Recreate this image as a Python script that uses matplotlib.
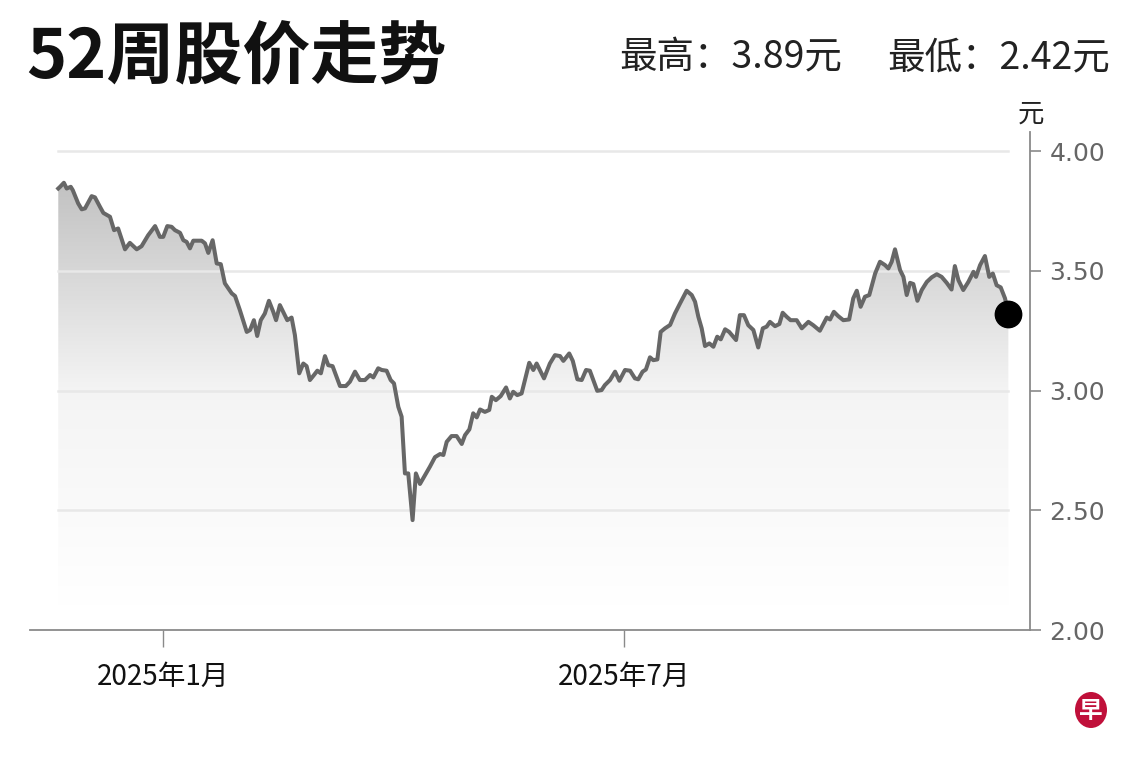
import numpy as np
import pandas as pd
import matplotlib
matplotlib.use('Agg')
import matplotlib.pyplot as plt
import matplotlib.dates as mdates
from matplotlib.colors import LinearSegmentedColormap
from matplotlib.patches import Ellipse

plt.rcParams['font.family'] = ['Noto Sans CJK SC', 'DejaVu Sans']

# 数据：距 2025-01-01 的天数与收盘价（元）
day_offsets = [
    -41.1, -40.4, -38.9, -37.8, -36.2, -35.4, -33.3, -31.9, -30.6, -28.0,
    -26.7, -24.7, -23.4, -20.8, -19.2, -17.6, -14.9, -13.0, -10.3, -8.4,
    -5.8, -3.1, -1.2, 0.1, 1.7, 3.4, 4.7, 6.7, 8.0, 9.3,
    10.6, 11.9, 15.2, 16.5, 17.8, 19.5, 21.1, 22.7, 24.3, 27.0,
    28.3, 30.2, 32.9, 34.2, 35.7, 37.0, 38.4, 40.0, 41.6, 43.3,
    44.4, 45.9, 47.5, 48.8, 50.5, 51.8, 53.5, 55.1, 56.4, 57.7,
    59.3, 60.6, 62.0, 63.6, 64.9, 66.6, 69.5, 71.8, 73.4, 75.4,
    77.3, 79.3, 81.3, 82.6, 84.5, 85.9, 87.8, 89.4, 90.7, 92.4,
    93.7, 95.0, 96.3, 98.0, 99.3, 100.9, 102.9, 104.8, 106.8, 108.8,
    110.1, 111.4, 113.3, 115.3, 117.3, 118.6, 120.3, 121.8, 123.2, 124.5,
    126.4, 128.1, 129.1, 130.7, 132.6, 134.7, 136.2, 137.5, 139.1, 140.8,
    143.8, 145.4, 146.7, 149.6, 151.9, 153.9, 155.9, 157.2, 159.5, 160.9,
    162.7, 164.4, 166.1, 167.6, 170.5, 172.2, 173.5, 175.5, 177.5, 179.2,
    181.4, 183.4, 185.3, 186.6, 188.3, 189.6, 191.2, 192.5, 194.1, 195.4,
    197.1, 199.1, 201.0, 203.0, 205.6, 207.6, 208.9, 210.2, 211.5, 212.8,
    214.5, 216.1, 217.6, 219.0, 220.7, 222.3, 225.0, 226.5, 228.1, 229.8,
    231.8, 233.7, 235.5, 237.0, 238.3, 240.3, 242.0, 243.3, 244.9, 246.4,
    248.8, 250.8, 253.4, 255.3, 257.9, 260.6, 261.9, 263.4, 265.1, 267.1,
    269.4, 271.0, 272.4, 273.9, 275.6, 277.3, 279.6, 281.5, 283.5, 284.8,
    286.1, 287.4, 289.4, 290.7, 292.0, 293.3, 294.6, 296.2, 297.9, 299.9,
    301.8, 303.8, 305.7, 307.7, 309.6, 310.9, 312.3, 314.2, 316.2, 318.2,
    319.2, 320.8, 322.7, 324.4, 325.8, 327.3, 328.9, 330.6, 331.9,
]
prices = [
    3.844, 3.851, 3.868, 3.844, 3.851, 3.837, 3.782, 3.757, 3.761, 3.812,
    3.807, 3.767, 3.742, 3.726, 3.670, 3.677, 3.590, 3.617, 3.590, 3.603,
    3.649, 3.687, 3.642, 3.642, 3.687, 3.684, 3.670, 3.659, 3.628, 3.621,
    3.594, 3.626, 3.626, 3.615, 3.575, 3.628, 3.531, 3.528, 3.448, 3.406,
    3.395, 3.336, 3.245, 3.253, 3.294, 3.228, 3.294, 3.322, 3.375, 3.329,
    3.294, 3.357, 3.322, 3.294, 3.305, 3.232, 3.072, 3.113, 3.102, 3.044,
    3.065, 3.083, 3.072, 3.144, 3.106, 3.102, 3.019, 3.019, 3.037, 3.079,
    3.044, 3.044, 3.065, 3.055, 3.093, 3.086, 3.083, 3.044, 3.030, 2.932,
    2.891, 2.654, 2.654, 2.459, 2.654, 2.610, 2.647, 2.682, 2.722, 2.735,
    2.731, 2.786, 2.810, 2.810, 2.777, 2.814, 2.838, 2.905, 2.888, 2.921,
    2.911, 2.919, 2.974, 2.960, 2.977, 3.013, 2.967, 2.995, 2.981, 2.988,
    3.116, 3.086, 3.113, 3.051, 3.113, 3.148, 3.144, 3.124, 3.155, 3.124,
    3.047, 3.044, 3.086, 3.083, 2.999, 3.002, 3.023, 3.044, 3.079, 3.041,
    3.086, 3.083, 3.051, 3.047, 3.079, 3.088, 3.139, 3.127, 3.130, 3.245,
    3.260, 3.274, 3.322, 3.364, 3.417, 3.399, 3.371, 3.308, 3.260, 3.186,
    3.197, 3.183, 3.225, 3.214, 3.256, 3.245, 3.211, 3.315, 3.315, 3.273,
    3.253, 3.180, 3.260, 3.267, 3.287, 3.269, 3.278, 3.325, 3.308, 3.294,
    3.294, 3.260, 3.287, 3.273, 3.250, 3.305, 3.297, 3.329, 3.311, 3.294,
    3.297, 3.385, 3.417, 3.350, 3.392, 3.399, 3.489, 3.538, 3.524, 3.510,
    3.538, 3.590, 3.503, 3.475, 3.399, 3.450, 3.445, 3.375, 3.420, 3.454,
    3.473, 3.486, 3.475, 3.450, 3.422, 3.520, 3.461, 3.420, 3.454, 3.496,
    3.475, 3.524, 3.562, 3.475, 3.489, 3.440, 3.431, 3.385, 3.320,
]
base_date = pd.Timestamp('2025-01-01')
dates = base_date + pd.to_timedelta(day_offsets, unit='D')

y_ticks = [2.00, 2.50, 3.00, 3.50, 4.00]
x_tick_dates = [pd.Timestamp('2025-01-01'), pd.Timestamp('2025-07-01')]
x_tick_labels = ['2025年1月', '2025年7月']

title = '52周股价走势'
high_text = '最高：3.89元'
low_text = '最低：2.42元'

# 画布
fig = plt.figure(figsize=(11.4, 7.6), dpi=100)
ax = fig.add_axes([30 / 1140, 130 / 760, 1000 / 1140, 498 / 760])

x = mdates.date2num(dates)
xmin = mdates.date2num(base_date - pd.Timedelta(days=52.2))
xmax = mdates.date2num(base_date + pd.Timedelta(days=340.4))
ymin, ymax = 2.0, 4.08

# 网格线（只画到数据范围）
for yv in y_ticks[1:]:
    ax.plot([x[0], x[-1]], [yv, yv], color='#e8e8e8', lw=1.8, zorder=2)

# 渐变填充
cmap = LinearSegmentedColormap.from_list('g', ['#ffffff', '#f4f4f4', '#c0c0c0'])
grad = np.linspace(0, 1, 256).reshape(-1, 1)
poly = ax.fill_between(x, prices, ymin, facecolor='none', edgecolor='none')
im = ax.imshow(grad, extent=[x[0], x[-1], 2.1, 3.9], origin='lower',
               aspect='auto', cmap=cmap, zorder=1)
im.set_clip_path(poly.get_paths()[0], transform=ax.transData)

ax.plot(x, prices, color='#676767', lw=2.9, zorder=3, solid_joinstyle='round')
ax.plot(x[-1], prices[-1], 'o', color='black', ms=19, zorder=4)

ax.set_xlim(xmin, xmax)
ax.set_ylim(ymin, ymax)

# 坐标轴
for s in ['top', 'left']:
    ax.spines[s].set_visible(False)
for s in ['right', 'bottom']:
    ax.spines[s].set_color('#8a8a8a')
    ax.spines[s].set_linewidth(1.3)

ax.yaxis.tick_right()
ax.set_yticks(y_ticks)
ax.set_yticklabels([f'{v:.2f}' for v in y_ticks], family='DejaVu Sans',
                   fontsize=18, color='#666666')
ax.tick_params(axis='y', length=8, width=1.2, color='#8a8a8a', pad=6)

ax.set_xticks(mdates.date2num(x_tick_dates))
ax.set_xticklabels(x_tick_labels, fontsize=20, color='#111111', weight='medium')
ax.tick_params(axis='x', length=12, width=1.0, color='#8a8a8a', pad=11)

# 标题与文字
fig.text(26 / 1140, 1 - 59 / 760, title, fontsize=49, weight='black',
         color='#111111', va='center', ha='left')
fig.text(842 / 1140, 1 - 58 / 760, high_text, fontsize=27, color='#222222',
         va='center', ha='right')
fig.text(1110 / 1140, 1 - 58 / 760, low_text, fontsize=27, color='#222222',
         va='center', ha='right')
fig.text(1031 / 1140, 1 - 114 / 760, '元', fontsize=19, color='#222222',
         va='center', ha='center')

# 右下角标志
logo = Ellipse((1091 / 1140, 1 - 710 / 760), 32 / 1140, 36 / 760,
               transform=fig.transFigure, facecolor='#c0103a', edgecolor='none')
fig.patches.append(logo)
fig.text(1091 / 1140, 1 - 711 / 760, '早', fontsize=17, color='white',
         weight='bold', ha='center', va='center')

fig.savefig('out.png', dpi=100)
